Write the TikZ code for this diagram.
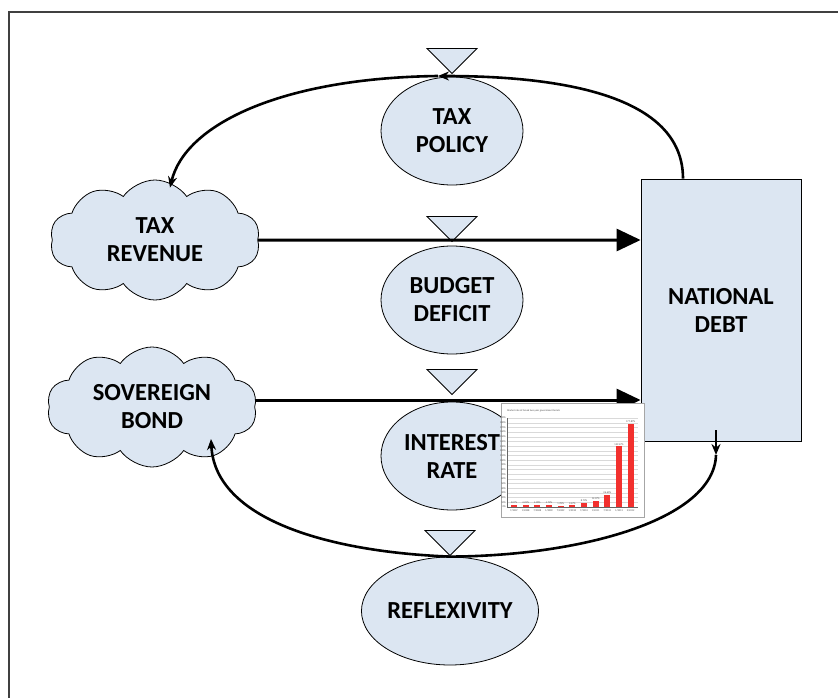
\documentclass[tikz,border=0pt]{standalone}
\usepackage{fontspec}
\setmainfont{Carlito}
\usetikzlibrary{positioning,shapes.geometric,shapes.symbols,arrows.meta}
\definecolor{paleblue}{HTML}{DCE6F2}
\definecolor{barred}{HTML}{F2302E}

\begin{document}
\begin{tikzpicture}[x=1pt,y=-1pt]
		\tikzset{stock/.style={draw,
							   fill=paleblue,
							   line width=0.8pt,
							   inner sep=0pt,
							   font=\fontsize{24.5}{28}\selectfont\bfseries,
							   align=center},
				 flowcloud/.style={stock,
								   cloud,
								   cloud puffs=10,
								   cloud puff arc=110,
								   aspect=1.9,
								   minimum width=210pt,
								   minimum height=120pt},
				 aux/.style={stock,
							 ellipse,
							 minimum width=142pt,
							 minimum height=108pt},
				 valve/.style={stock,
							   isosceles triangle,
							   isosceles triangle stretches,
							   shape border rotate=-90,
							   minimum width=50pt,
							   minimum height=25pt,
							   anchor=apex},
				 flow/.style={line width=3pt,
							  -{Triangle[length=24pt,width=22pt]}},
				 link/.style={line width=2.6pt,
							  -{Stealth[length=11pt,width=9pt]}},
				 tinytext/.style={font=\fontsize{2.6}{3}\selectfont,
								  inner sep=0pt,
								  text=black!70}}
		\useasboundingbox (0,0) rectangle (838,698);
		\draw[black!75, line width=1.5pt] (838,12) -- (9,12) -- (9,698);

		% Nodes
	    \node[flowcloud] (revenue) at (155,240) {TAX\\REVENUE};
	    \node[flowcloud] (bond) at (152,407) {SOVEREIGN\\BOND};
	    \node[aux] (policy) at (452,131) {TAX\\POLICY};
	    \node[aux] (deficit) at (452,300) {BUDGET\\DEFICIT};
	    \node[aux] (interest) at (452,456) {INTEREST\\RATE};
	    \node[aux, minimum width=138pt] (reflex) at (450,611) {REFLEXIVITY};
	    \node[stock, minimum width=160pt, minimum height=262pt] (debt) at (721,310) {NATIONAL\\DEBT};
	    \node[valve] (policyvalve) at ([yshift=2pt]policy.north) {};
	    \node[valve] (deficitvalve) at ([yshift=3pt]deficit.north) {};
	    \node[valve] (interestvalve) at ([yshift=6pt]interest.north) {};
	    \node[valve] (reflexvalve) at (reflex.north) {};
	    \coordinate (topbend) at (438,76);
	    \coordinate (lowbend) at (716,455);

	    % Arrows
	    \draw[flow] (revenue) -- (revenue -| debt.west);
	    \draw[flow] ([yshift=7pt]bond.east) -- ([yshift=7pt]bond.east -| debt.west);
	    \draw[link] ([xshift=-38pt]debt.north) .. controls (683,95) and (560,76) .. (topbend);
	    \draw[link] (topbend) .. controls (280,78) and (185,125) .. ([shift={(15,8)}]revenue.north);
	    \draw[link] ([xshift=-5pt,yshift=11pt]debt.south) -- (lowbend);
	    \draw[line width=2.6pt] (lowbend) .. controls (714,520) and (580,556) .. (reflexvalve.apex);
	    \draw[link] (reflexvalve.apex) .. controls (330,552) and (215,520) .. ([shift={(59,32)}]bond.center);

	    % Chart
	    \draw[draw=black!35, fill=white, line width=0.6pt] (501,403) rectangle (644,517);
	    \node[tinytext, anchor=west] (charttitle) at (507,411) {Market rate of Greek two-year government bonds};
	    \foreach \g [evaluate=\g as \pct using int(10*\g)] in {0,...,19} {
	        \draw[black!15, line width=0.3pt] (507,{507-4.68*\g}) -- (638,{507-4.68*\g});
	        \node[tinytext, anchor=east] at (506,{507-4.68*\g}) {\pct\%};
	    }
	    \draw[black!60, line width=0.4pt] (507,418) -- (507,507) -- (638,507);
	    \foreach \v/\m/\yr [count=\i] in {5.07/7/2007, 4.23/1/2008, 4.98/7/2008, 4.72/1/2009, 1.78/7/2009, 3.47/1/2010,
	                                      8.73/7/2010, 12.37/1/2011, 26.65/7/2011, 129.47/1/2012, 177.87/2/2012} {
	        \fill[barred] ({499.33+11.67*\i},507) rectangle ++(6,{-0.468*\v});
	        \node[tinytext, anchor=south] at ({502.33+11.67*\i},{506-0.468*\v}) {\v\%};
	        \node[tinytext, anchor=north] at ({502.33+11.67*\i},509) {\m/\yr};
	    }
	\end{tikzpicture}
\end{document}
